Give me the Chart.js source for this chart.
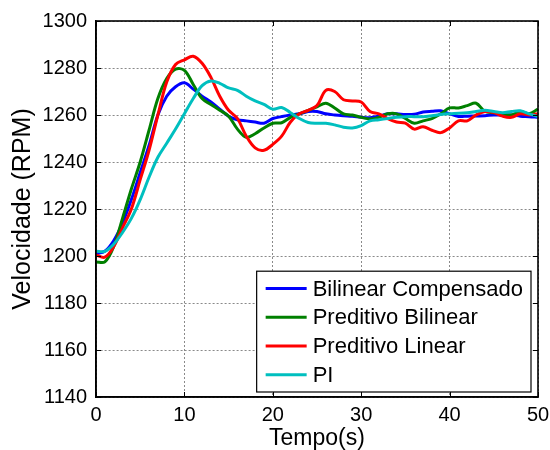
<!DOCTYPE html>
<html>
<head>
<meta charset="utf-8">
<script src="https://cdn.jsdelivr.net/npm/chart.js@4.4.1/dist/chart.umd.min.js"></script>
<style>
html,body{margin:0;padding:0;background:#fff;}
#wrap{width:550px;height:450px;}
</style>
</head>
<body>
<div id="wrap"><canvas id="c" width="550" height="450"></canvas></div>
<script>
// ---- data ----
const tempo = [0,1,2,3,4,5,6,7,8,9,10,11,12,13,14,15,16,17,18,19,20,21,22,23,24,25,26,27,28,29,30,31,32,33,34,35,36,37,38,39,40,41,42,43,44,45,46,47,48,49,50];
const seriesNames = ["Bilinear Compensado", "Preditivo Bilinear", "Preditivo Linear", "PI"];
const bilinearCompensado = [1201,1202,1206.5,1214,1224,1235.5,1247,1260,1268,1272,1273.7,1271,1268,1265.5,1262.5,1259.5,1258,1257.5,1257,1256.5,1258.5,1259.3,1260,1260.5,1261.5,1261.5,1260.5,1260,1259.7,1259.5,1259,1258.8,1259.5,1260.5,1260.5,1260.2,1260.3,1261.3,1261.6,1261.8,1260.5,1259.4,1259.5,1259.6,1259.7,1260,1260,1260,1259.5,1259.3,1259];
const preditivoBilinear = [1197.5,1197.5,1204,1216,1228.5,1240,1253.5,1267,1275.5,1279.5,1279,1273,1267,1264.5,1262,1259.5,1254,1250.5,1252,1254.5,1256.5,1256.7,1259,1260.5,1262,1263.5,1265,1263,1260.5,1260,1259,1258.3,1259,1260.5,1260.5,1258.5,1256.5,1257.5,1258.5,1260.5,1263,1263,1264,1265,1261.5,1261,1260.3,1260,1261.5,1260.5,1262.5];
const preditivoLinear = [1200.5,1199.5,1204,1212,1220,1232.5,1245,1260,1274,1281.5,1283.5,1285,1282,1276,1268,1262,1258.5,1251,1246,1245,1247.5,1251,1257,1260.5,1262,1264,1270.5,1270,1266.5,1266,1265.5,1261.5,1260.5,1258.5,1257,1256.5,1254,1255,1253.5,1252.5,1254.5,1257.5,1257.5,1260,1261.5,1261,1259.5,1259,1260.5,1260,1260.5];
const pi = [1202,1202,1205,1210,1216,1224,1233.5,1242,1248,1254,1260.5,1267,1272.5,1274.5,1273.5,1271.5,1270.5,1268,1266,1264.5,1262.5,1263.2,1261,1258.5,1256.8,1256.5,1256.5,1255.8,1254.8,1254.5,1255.5,1257.5,1258,1258.5,1259,1259.3,1259.3,1259.3,1259.7,1260.2,1260.5,1260.7,1261,1261.5,1262,1261.5,1261,1261.5,1261.8,1260.5,1259.3];
const xTicksMin = 0, xTicksMax = 50, xStep = 10;
const yTicksMin = 1140, yTicksMax = 1300, yStep = 20;
const xTitle = "Tempo(s)";
const yTitle = "Velocidade (RPM)";

// ---- styles ----
const FONT = "'Liberation Sans', Arial, Helvetica, sans-serif";
const colors = ["#0000ff", "#008000", "#ff0000", "#00bfbf"];
const allValues = [bilinearCompensado, preditivoBilinear, preditivoLinear, pi];

function pts(vals){ return tempo.map((t,i)=>({x:t, y:vals[i]})); }

const datasets = allValues.map((vals, i) => ({
  label: seriesNames[i],
  data: pts(vals),
  borderColor: colors[i],
  backgroundColor: colors[i],
  borderWidth: 3,
  pointRadius: 0,
  tension: 0.35,
  fill: false,
  order: 4 - i
}));

const framePlugin = {
  id: 'frame',
  afterDatasetsDraw(chart){
    const {ctx, chartArea: a, scales: {x, y}} = chart;
    ctx.save();
    ctx.strokeStyle = '#000';
    ctx.lineWidth = 1.6;
    ctx.strokeRect(a.left, a.top, a.right - a.left, a.bottom - a.top);
    const tl = 5;
    ctx.lineWidth = 1;
    ctx.beginPath();
    x.ticks.forEach(t => {
      const px = Math.round(x.getPixelForValue(t.value)) + 0.5;
      ctx.moveTo(px, a.bottom); ctx.lineTo(px, a.bottom - tl);
      ctx.moveTo(px, a.top); ctx.lineTo(px, a.top + tl);
    });
    y.ticks.forEach(t => {
      const py = Math.round(y.getPixelForValue(t.value)) + 0.5;
      ctx.moveTo(a.left, py); ctx.lineTo(a.left + tl, py);
      ctx.moveTo(a.right, py); ctx.lineTo(a.right - tl, py);
    });
    ctx.stroke();
    ctx.restore();
  },
  afterDraw(chart){
    const {ctx, chartArea: a} = chart;
    const ds = chart.data.datasets;
    ctx.save();
    ctx.font = "22px " + FONT;
    let maxW = 0;
    ds.forEach(d => { maxW = Math.max(maxW, ctx.measureText(d.label).width); });
    const rowH = 28.7, padY = 3, padL = 9, lineLen = 41, gap = 6, padR = 8;
    const w = padL + lineLen + gap + maxW + padR;
    const h = ds.length * rowH + 2 * padY;
    const right = a.right - 7, bottom = a.bottom - 5;
    const left = right - w, top = bottom - h;
    ctx.fillStyle = '#fff';
    ctx.fillRect(left, top, w, h);
    ctx.strokeStyle = '#000';
    ctx.lineWidth = 1.2;
    ctx.strokeRect(left, top, w, h);
    ds.forEach((d, i) => {
      const cy = top + padY + rowH * (i + 0.5);
      ctx.strokeStyle = d.borderColor;
      ctx.lineWidth = 3;
      ctx.beginPath();
      ctx.moveTo(left + padL, cy); ctx.lineTo(left + padL + lineLen, cy);
      ctx.stroke();
      ctx.fillStyle = '#000';
      ctx.textBaseline = 'middle';
      ctx.textAlign = 'left';
      ctx.fillText(d.label, left + padL + lineLen + gap, cy + 1);
    });
    ctx.restore();
  }
};

new Chart(document.getElementById('c'), {
  type: 'line',
  data: { datasets },
  options: {
    responsive: false,
    animation: false,
    layout: { padding: { left: 0, right: 12, top: 20, bottom: 0 } },
    plugins: { legend: { display: false }, tooltip: { enabled: false } },
    scales: {
      x: {
        type: 'linear',
        min: xTicksMin, max: xTicksMax,
        ticks: { stepSize: xStep, color: '#000', font: { family: FONT, size: 20, lineHeight: 1.8 }, padding: 0, maxRotation: 0, callback: v => String(v) },
        grid: { color: '#8a8a8a', lineWidth: 1, drawTicks: false },
        border: { display: true, color: '#000', width: 1.6, dash: [2, 2] },
        title: { display: true, text: xTitle, color: '#000', font: { family: FONT, size: 23, lineHeight: 1 }, padding: { top: 0, bottom: 0 } },
        afterFit(s){ s.height = 53; }
      },
      y: {
        type: 'linear',
        min: yTicksMin, max: yTicksMax,
        ticks: { stepSize: yStep, color: '#000', font: { family: FONT, size: 20 }, padding: 9, callback: v => String(v) },
        grid: { color: '#8a8a8a', lineWidth: 1, drawTicks: false },
        border: { display: true, color: '#000', width: 1.6, dash: [2, 2] },
        title: { display: true, text: yTitle, color: '#000', font: { family: FONT, size: 25, lineHeight: 1 }, padding: { top: 11, bottom: 0 } },
        afterFit(s){ s.width = 96; }
      }
    }
  },
  plugins: [framePlugin]
});
</script>
</body>
</html>
